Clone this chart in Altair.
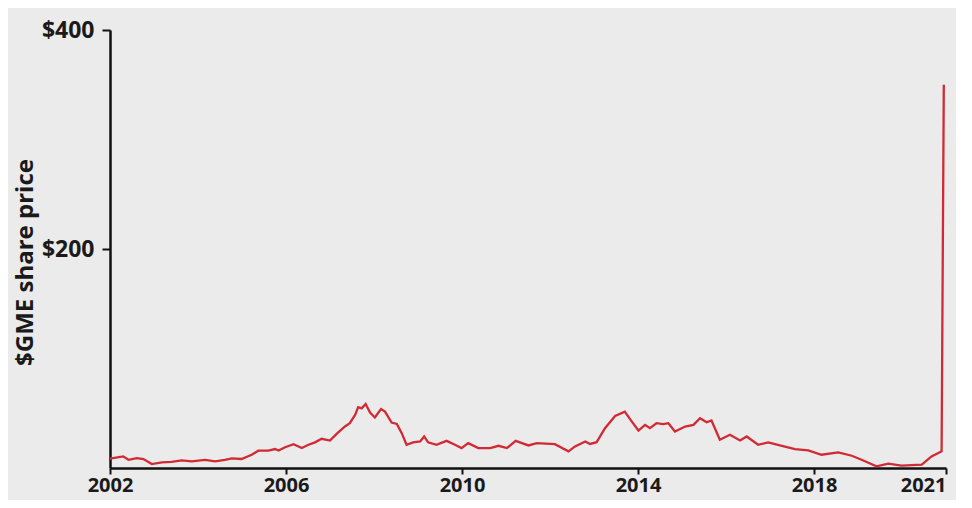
import altair as alt
import pandas as pd

# decimal year, GME share price ($)
years = [2002.00, 2002.30, 2002.42, 2002.61, 2002.76, 2002.95, 2003.18, 2003.40, 2003.63, 2003.86,
         2004.16, 2004.39, 2004.61, 2004.77, 2004.99, 2005.22, 2005.37, 2005.60, 2005.75, 2005.83,
         2005.98, 2006.17, 2006.36, 2006.51, 2006.66, 2006.81, 2007.00, 2007.15, 2007.34, 2007.45,
         2007.57, 2007.64, 2007.72, 2007.81, 2007.91, 2008.02, 2008.16, 2008.25, 2008.40, 2008.52,
         2008.63, 2008.74, 2008.89, 2009.05, 2009.14, 2009.23, 2009.42, 2009.65, 2009.84, 2009.99,
         2010.14, 2010.37, 2010.64, 2010.83, 2011.02, 2011.22, 2011.51, 2011.70, 2012.11, 2012.42,
         2012.57, 2012.80, 2012.91, 2013.06, 2013.25, 2013.48, 2013.70, 2013.86, 2014.01, 2014.16,
         2014.27, 2014.42, 2014.57, 2014.69, 2014.84, 2015.07, 2015.26, 2015.41, 2015.56, 2015.67,
         2015.86, 2016.09, 2016.32, 2016.47, 2016.73, 2016.96, 2017.27, 2017.57, 2017.87, 2018.17,
         2018.55, 2018.86, 2019.08, 2019.42, 2019.69, 2019.99, 2020.45, 2020.67, 2020.86, 2020.90,
         2020.95]
prices = [8.5, 10.6, 7.5, 9.0, 8.2, 3.6, 5.2, 5.5, 7.0, 6.0,
          7.5, 6.0, 7.5, 8.8, 8.2, 12.1, 15.8, 15.8, 17.3, 16.0,
          19.0, 21.8, 18.2, 21.2, 23.4, 26.7, 25.1, 31.2, 37.9, 40.9,
          48.5, 55.5, 54.5, 58.5, 50.6, 46.1, 53.9, 51.5, 41.5, 40.3,
          31.8, 21.2, 23.4, 24.2, 28.8, 23.4, 21.2, 24.8, 21.2, 18.2,
          22.7, 18.2, 18.2, 20.3, 18.2, 24.8, 20.6, 22.7, 21.8, 15.2,
          19.7, 24.2, 22.0, 23.6, 36.4, 47.5, 51.5, 42.4, 34.2, 39.4,
          36.4, 40.9, 40.0, 40.9, 33.3, 37.9, 39.4, 45.5, 41.8, 43.4,
          25.8, 30.3, 25.2, 28.8, 21.2, 23.4, 20.3, 17.3, 16.0, 12.1,
          14.3, 11.2, 7.5, 1.5, 3.9, 2.1, 3.0, 10.6, 14.3, 15.2,
          350.0]

x_ticks = [2002, 2006, 2010, 2014, 2018, 2021]
y_ticks = [200, 400]
y_title = "$GME share price"

df = pd.DataFrame({"year": years, "price": prices})

FONT = "Open Sans"

chart = alt.Chart(df).mark_line(color="#d22a35", strokeWidth=2.3).encode(
    x=alt.X("year:Q",
            scale=alt.Scale(domain=[2002, 2021], nice=False, zero=False),
            axis=alt.Axis(values=x_ticks, format="d", title=None, grid=False,
                          domainColor="#111", domainWidth=2.5, tickColor="#111",
                          tickWidth=2, tickSize=6, labelFont=FONT, labelFontSize=20,
                          labelFontWeight="bold", labelColor="#1a1a1a", labelPadding=1,
                          labelAlign=alt.expr("datum.value == 2021 ? 'right' : 'center'"),
                          labelOverlap=False, labelFlush=False)),
    y=alt.Y("price:Q",
            scale=alt.Scale(domain=[0, 400], nice=False),
            axis=alt.Axis(values=y_ticks, labelExpr="'$' + datum.value", title=y_title,
                          grid=False, domainColor="#111", domainWidth=2.5, tickColor="#111",
                          tickWidth=2, tickSize=8, labelFont=FONT, labelFontSize=23,
                          labelFontWeight="bold", labelColor="#1a1a1a", labelPadding=8,
                          titleFont=FONT, titleFontSize=24, titleFontWeight="bold",
                          titleColor="#1a1a1a", titleX=-85, titleY=232, titleAngle=-90,
                          titleAlign="center", titleBaseline="middle")),
).properties(
    width=836,
    height=438,
    background="#ebebeb",
    padding={"left": 102, "top": 22, "right": 10, "bottom": 32},
    autosize=alt.AutoSizeParams(type="none"),
).configure_view(stroke=None)

chart.save("out.html", embed_options={"renderer": "svg", "actions": False})
